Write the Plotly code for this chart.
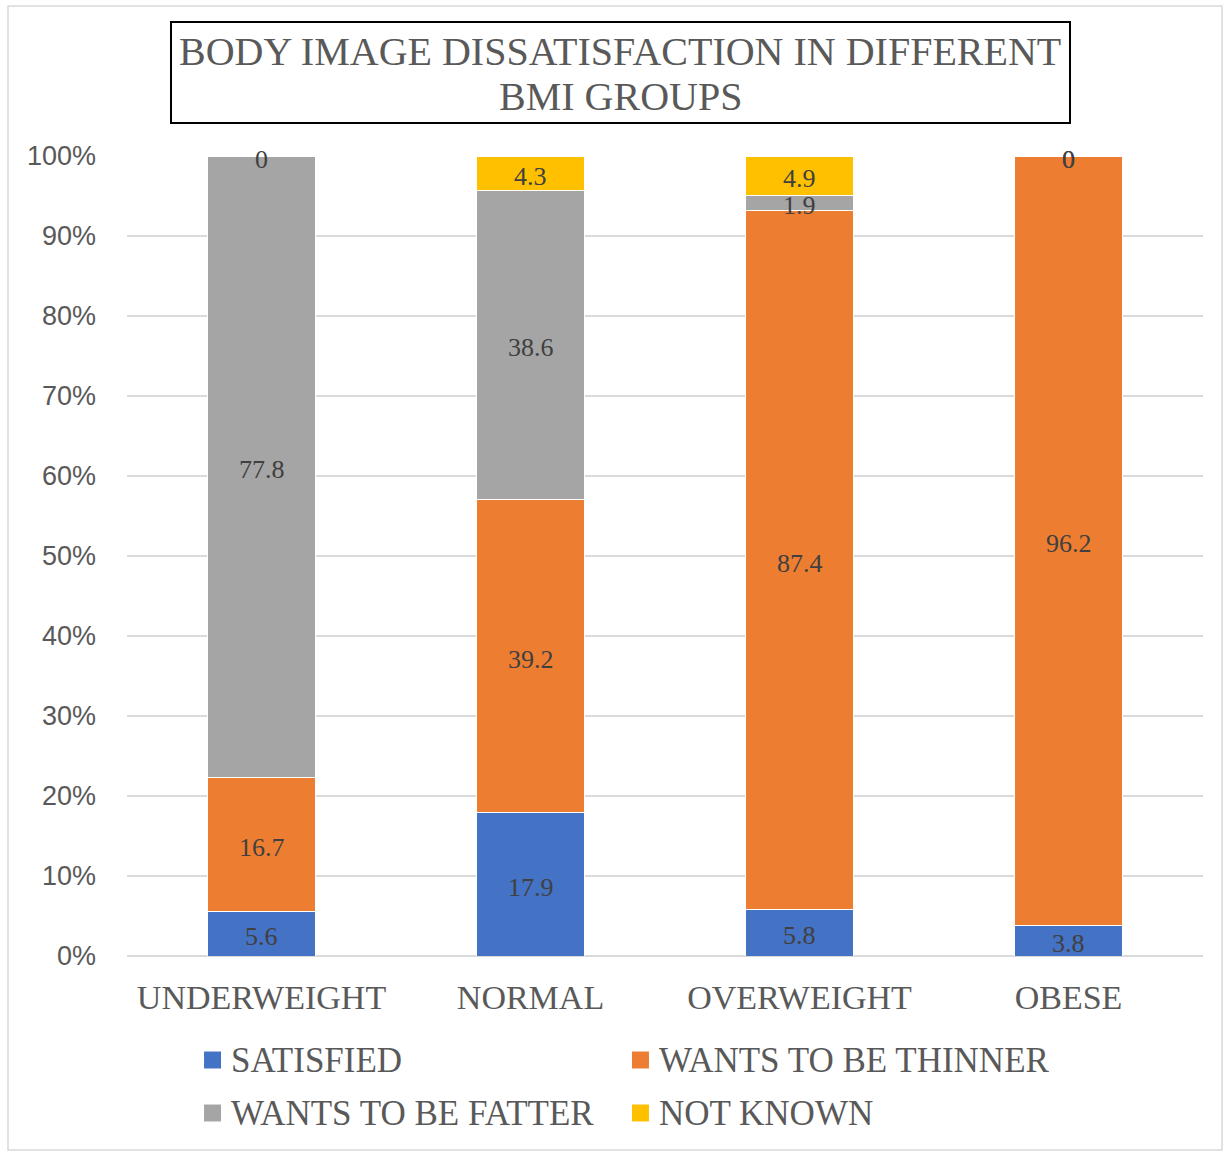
import plotly.graph_objects as go

# Chart data
groups = ["UNDERWEIGHT", "NORMAL", "OVERWEIGHT", "OBESE"]
satisfied = [5.6, 17.9, 5.8, 3.8]
thinner = [16.7, 39.2, 87.4, 96.2]
fatter = [77.8, 38.6, 1.9, 0]
not_known = [0, 4.3, 4.9, 0]

series_names = ["SATISFIED", "WANTS TO BE THINNER", "WANTS TO BE FATTER", "NOT KNOWN"]
series_values = [satisfied, thinner, fatter, not_known]
series_colors = ["#4472C4", "#ED7D31", "#A5A5A5", "#FFC000"]

tick_vals = [0, 10, 20, 30, 40, 50, 60, 70, 80, 90, 100]
tick_text = ["0%", "10%", "20%", "30%", "40%", "50%", "60%", "70%", "80%", "90%", "100%"]

title_lines = ["BODY IMAGE DISSATISFACTION IN DIFFERENT", "BMI GROUPS"]

SERIF = "Liberation Serif, Times New Roman, serif"
SANS = "Liberation Sans, Arial, sans-serif"

fig = go.Figure()

for name, vals, color in zip(series_names, series_values, series_colors):
    fig.add_trace(go.Bar(
        x=groups, y=vals, name=name,
        marker=dict(color=color, line=dict(color="#FFFFFF", width=1)),
        hoverinfo="skip", showlegend=False,
    ))

shapes = [
    # outer chart border
    dict(type="rect", xref="paper", yref="paper",
         x0=-0.1106, x1=1.0177, y0=-0.2425, y1=1.1875,
         line=dict(color="#D9D9D9", width=1.5), layer="below"),
    # title box
    dict(type="rect", xref="paper", yref="paper",
         x0=0.0409, x1=0.8764, y0=1.04125, y1=1.1675,
         line=dict(color="#000000", width=2)),
]
annotations = []

# Data labels centred in each stacked segment (percent-normalised positions)
totals = [sum(v[i] for v in series_values) for i in range(len(groups))]
for i, g in enumerate(groups):
    base = 0.0
    for vals in series_values:
        h = vals[i] / totals[i] * 100
        annotations.append(dict(
            x=g, y=base + h / 2, xref="x", yref="y", text=f"{vals[i]:g}",
            showarrow=False, xanchor="center", yanchor="middle", yshift=-3,
            font=dict(family=SERIF, size=26, color="#404040")))
        base += h

# Title, one annotation per line
for line_text, ly in zip(title_lines, [1.131, 1.0745]):
    annotations.append(dict(
        text=line_text, xref="paper", yref="paper", x=0.4582, y=ly,
        xanchor="center", yanchor="middle", showarrow=False,
        font=dict(family=SERIF, size=40, color="#595959")))

# Legend laid out in two columns below the axis
leg_cols = [0.0716, 0.4693]
leg_rows = [-0.13, -0.19625]
sq_w, sq_h = 0.0158, 0.0106
for k, (name, color) in enumerate(zip(series_names, series_colors)):
    lx = leg_cols[k % 2]
    ly = leg_rows[k // 2]
    shapes.append(dict(type="rect", xref="paper", yref="paper",
                       x0=lx, x1=lx + sq_w, y0=ly - sq_h, y1=ly + sq_h,
                       fillcolor=color, line=dict(width=0)))
    annotations.append(dict(
        text=name, xref="paper", yref="paper", x=lx + 0.0232, y=ly,
        xanchor="left", yanchor="middle", showarrow=False,
        font=dict(family=SERIF, size=35, color="#595959")))

fig.update_layout(
    width=1231, height=1153,
    margin=dict(l=127, r=28, t=156, b=197),
    barmode="stack", barnorm="percent", bargap=0.6,
    paper_bgcolor="#FFFFFF", plot_bgcolor="#FFFFFF",
    showlegend=False,
    xaxis=dict(
        showgrid=False, showline=False, ticks="",
        tickfont=dict(family=SERIF, size=34, color="#595959"),
        ticklabelstandoff=18,
    ),
    yaxis=dict(
        range=[0, 100], tickvals=tick_vals, ticktext=tick_text,
        showgrid=True, gridcolor="#D9D9D9", gridwidth=1.5,
        zeroline=True, zerolinecolor="#D9D9D9", zerolinewidth=1.5,
        showline=False, ticks="",
        tickfont=dict(family=SANS, size=27, color="#595959"),
        ticklabelstandoff=30,
    ),
    shapes=shapes,
    annotations=annotations,
)

fig.write_html("out.html")
